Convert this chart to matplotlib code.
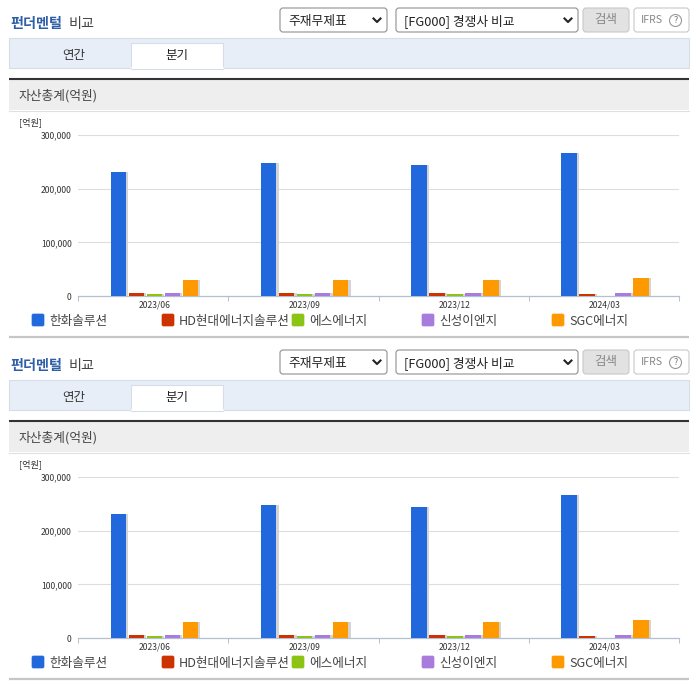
import matplotlib
matplotlib.use('Agg')
import matplotlib.pyplot as plt
from matplotlib.patches import Rectangle, FancyBboxPatch, Circle
import numpy as np

plt.rcParams['font.family'] = ['Noto Sans CJK KR', 'DejaVu Sans']

W, H = 696, 684
PANEL_OFFSETS = [0, 342]

quarters = ['2023/06', '2023/09', '2023/12', '2024/03']
names = ['한화솔루션', 'HD현대에너지솔루션', '에스에너지', '신성이엔지', 'SGC에너지']
colors = ['#2068dc', '#cc3300', '#8cc414', '#a87bdc', '#ff9900']
hanwha = [230700, 248000, 245000, 266500]
hd_energy = [5000, 5000, 5000, 3000]
s_energy = [3000, 3000, 3000, 500]
shinsung = [5000, 5000, 5000, 5000]
sgc = [29000, 29000, 29000, 33000]
series = [hanwha, hd_energy, s_energy, shinsung, sgc]
y_ticks = [0, 100000, 200000, 300000]

TEXT = '#444444'

fig = plt.figure(figsize=(W / 100, H / 100), dpi=100, facecolor='white')

# overlay in pixel coords for the page furniture
ui = fig.add_axes([0, 0, 1, 1], zorder=0)
ui.set_xlim(0, W); ui.set_ylim(H, 0); ui.axis('off')


def rbox(x0, y0, x1, y1, fc='white', ec='#aaaaaa', r=3, lw=0.8):
    ui.add_patch(FancyBboxPatch((x0 + r, y0 + r), x1 - x0 - 2 * r, y1 - y0 - 2 * r,
                                boxstyle=f'round,pad={r},rounding_size={r}',
                                fc=fc, ec=ec, lw=lw))


def select(x0, x1, y, label):
    rbox(x0, y + 8, x1, y + 32, ec='#909090')
    ui.text(x0 + 8, y + 21, label, fontsize=9.2, color='#222222', va='center')
    cx = x1 - 10
    ui.plot([cx - 3.5, cx, cx + 3.5], [y + 18.5, y + 22, y + 18.5], color='#222222', lw=1.5)


def chrome(y):
    ui.text(10, y + 24, '펀더멘털', fontsize=10.2, color='#2f5fa8', fontweight='bold', va='center')
    ui.text(69, y + 24, '비교', fontsize=10.2, color='#444444', fontweight='medium', va='center')
    select(280, 387, y, '주재무제표')
    select(396, 578, y, '[FG000] 경쟁사 비교')
    rbox(583, y + 8, 629, y + 32, fc='#e2e2e2', ec='#c8c8c8')
    ui.text(606, y + 20, '검색', fontsize=9, color='#888888', ha='center', va='center')
    rbox(634, y + 8, 689, y + 32, ec='#c8c8c8')
    ui.text(641, y + 20, 'IFRS', fontsize=7.6, color='#888888', va='center')
    ui.add_patch(Circle((675.5, y + 20.5), 6, fc='white', ec='#999999', lw=0.8))
    ui.text(675.5, y + 20.5, '?', fontsize=6.5, color='#777777', ha='center', va='center')
    # tabs
    ui.add_patch(Rectangle((9, y + 38), 680, 30, fc='#e8eef8', ec='#d6dde8', lw=0.8))
    ui.add_patch(Rectangle((131, y + 43), 92, 25.5, fc='white', ec='#d6dde8', lw=0.8))
    ui.plot([131.5, 222.5], [y + 68, y + 68], color='white', lw=1.2)
    ui.text(74, y + 55, '연간', fontsize=9, color='#333333', ha='center', va='center')
    ui.text(177, y + 55, '분기', fontsize=9, color='#222222', ha='center', va='center')
    # section header
    ui.add_patch(Rectangle((9, y + 79), 680, 31, fc='#eeeeee', ec='none'))
    ui.plot([9, 689], [y + 79, y + 79], color='#333333', lw=1.5, solid_capstyle='butt')
    ui.plot([9, 689], [y + 110.5, y + 110.5], color='#e0e0e0', lw=0.8)
    ui.text(19, y + 96, '자산총계(억원)', fontsize=9.2, color='#444444', va='center')
    ui.text(19, y + 122, '[억원]', fontsize=6.6, color='#333333', va='center')
    ui.plot([9, 689], [y + 337, y + 337], color='#c6c6c6', lw=1.6, solid_capstyle='butt')


def legend(y):
    for k, (name, c) in enumerate(zip(names, colors)):
        x = 32 + 130 * k
        rbox(x, y + 314, x + 12, y + 326, fc=c, ec=c, r=1.5, lw=0.5)
        ui.text(x + 17, y + 321.5, name, fontsize=9.1, color=TEXT, va='center')


def chart(y):
    ax = fig.add_axes([78 / W, 1 - (y + 296) / H, 601 / W, 161 / H], zorder=2)
    ax.patch.set_alpha(0)
    idx = np.arange(len(quarters))
    bar_w, step = 0.103, 0.12
    for k, (vals, c) in enumerate(zip(series, colors)):
        xs = idx + (k - 2) * step + 0.008
        ax.bar(xs + 0.015, vals, width=bar_w, color='#d4d4d4', zorder=2)
        ax.bar(xs, vals, width=bar_w, color=c, zorder=3)
    ax.set_xlim(-0.5, 3.5)
    ax.set_ylim(0, 300000)
    ax.set_yticks(y_ticks)
    ax.set_yticklabels([f'{v:,}' for v in y_ticks], fontsize=6.2, color='#333333')
    ax.tick_params(axis='y', length=0, pad=4.5)
    ax.set_xticks(idx + 0.008)
    ax.set_xticklabels(quarters, fontsize=6.2, color='#333333')
    ax.tick_params(axis='x', which='major', length=0, pad=3)
    ax.set_xticks(np.arange(5) - 0.5, minor=True)
    ax.tick_params(axis='x', which='minor', length=3.5, width=0.7, color='#b4bfd0')
    ax.grid(axis='y', color='#dddddd', lw=0.8, zorder=0)
    ax.set_axisbelow(True)
    for s in ['top', 'right', 'left']:
        ax.spines[s].set_visible(False)
    ax.spines['bottom'].set_color('#b4bfd0')
    ax.spines['bottom'].set_linewidth(0.9)


for off in PANEL_OFFSETS:
    chrome(off)
    chart(off)
    legend(off)

fig.savefig('out.png', dpi=100, facecolor='white')
